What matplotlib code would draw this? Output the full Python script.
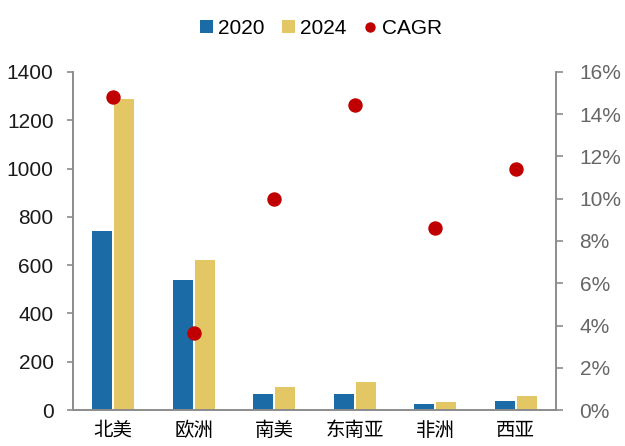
import matplotlib
matplotlib.use("Agg")
import matplotlib.pyplot as plt
import numpy as np
from matplotlib.lines import Line2D
from matplotlib.patches import Patch

regions = ["北美", "欧洲", "南美", "东南亚", "非洲", "西亚"]
values_2020 = [741, 538, 65, 67, 25, 37]
values_2024 = [1287, 621, 94, 116, 34, 57]
cagr_pct = [14.8, 3.65, 10.0, 14.45, 8.6, 11.4]

blue = "#1B6BA6"
gold = "#E3C765"
red = "#C00000"
spine_gray = "#8C8C8C"

plt.rcParams["font.family"] = ["Liberation Sans", "DejaVu Sans"]

fig = plt.figure(figsize=(6.25, 4.46), dpi=100)
ax = fig.add_axes([0.1168, 0.0807, 0.7728, 0.7579])
ax2 = ax.twinx()

x = np.arange(len(regions))
w = 0.25
gap = 0.02
ax.bar(x - w / 2 - gap / 2, values_2020, width=w, color=blue, zorder=2)
ax.bar(x + w / 2 + gap / 2, values_2024, width=w, color=gold, zorder=2)
ax2.scatter(x, cagr_pct, s=88, color=red, zorder=3)

ax.set_xlim(-0.5, len(regions) - 0.5)
ax.set_ylim(0, 1400)
ax.set_yticks(range(0, 1401, 200))
ax2.set_ylim(0, 16)
ax2.set_yticks(range(0, 17, 2))
ax2.set_yticklabels([f"{v}%" for v in range(0, 17, 2)])

ax.set_xticks(x)
ax.set_xticklabels(regions, fontfamily=["Noto Sans CJK SC", "DejaVu Sans"],
                   fontsize=14, fontweight="light")
ax.tick_params(axis="x", length=0, pad=7)
ax.tick_params(axis="y", labelsize=15, colors=spine_gray, labelcolor="#1a1a1a",
               length=4, width=1.2, direction="out", pad=10)
ax2.tick_params(axis="y", labelsize=15, colors=spine_gray, labelcolor="#666666",
                length=5, width=1.2, direction="out", pad=12)

for a in (ax, ax2):
    a.spines["top"].set_visible(False)
    for s in ("left", "right", "bottom"):
        a.spines[s].set_color(spine_gray)
        a.spines[s].set_linewidth(1.2)

handles = [
    Patch(facecolor=blue, label="2020"),
    Patch(facecolor=gold, label="2024"),
    Line2D([0], [0], marker="o", color="w", markerfacecolor=red, markersize=8.5, label="CAGR"),
]
fig.legend(handles=handles, loc="center", bbox_to_anchor=(0.514, 0.936), ncol=3,
           frameon=False, fontsize=15, handlelength=0.6, handleheight=0.6,
           handletextpad=0.25, columnspacing=0.85)

fig.savefig("out.png", dpi=100)
